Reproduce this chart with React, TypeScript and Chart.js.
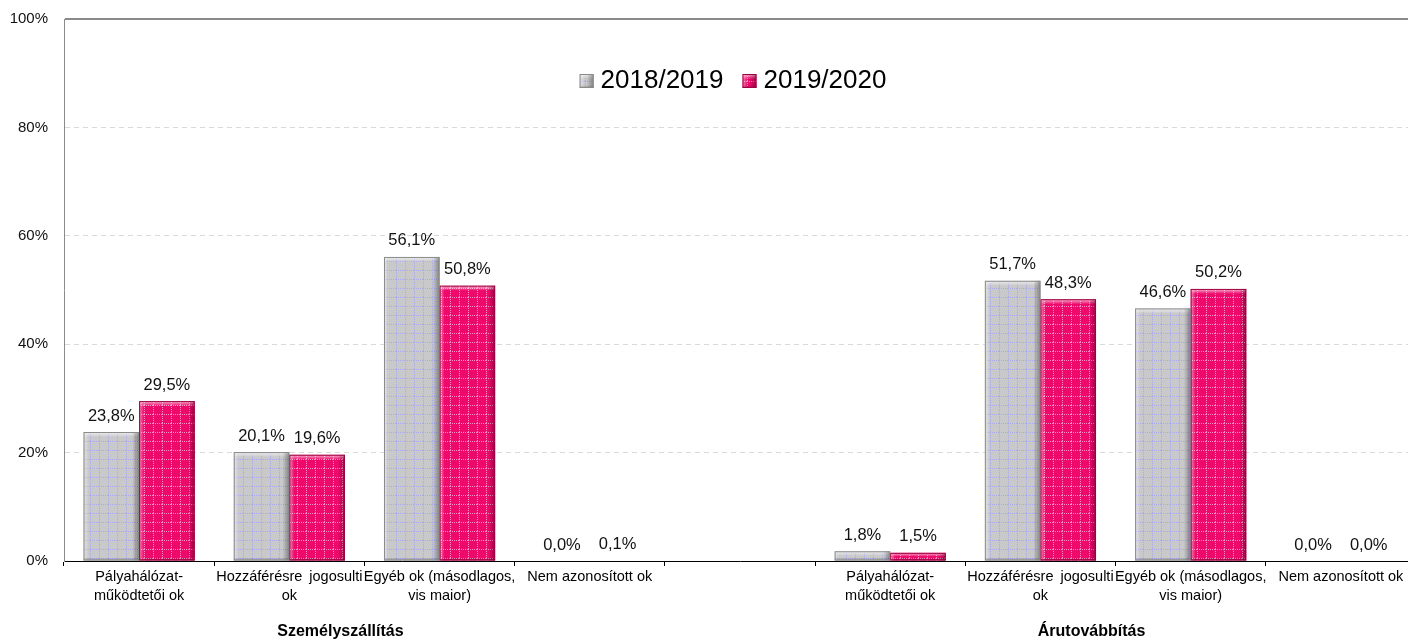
import { useEffect, useRef } from "react";
import { Chart, registerables } from "chart.js";

Chart.register(...registerables);

const categories: (string | string[])[] = [
  ["Pályahálózat-", "működtetői ok"],
  ["Hozzáférésre \u2009jogosulti", "ok"],
  ["Egyéb ok (másodlagos,", "vis maior)"],
  ["Nem azonosított ok"],
  "",
  ["Pályahálózat-", "működtetői ok"],
  ["Hozzáférésre \u2009jogosulti", "ok"],
  ["Egyéb ok (másodlagos,", "vis maior)"],
  ["Nem azonosított ok"],
];
const seriesNames = ["2018/2019", "2019/2020"];
const values2018: (number | null)[] = [23.8, 20.1, 56.1, 0.0, null, 1.8, 51.7, 46.6, 0.0];
const values2019: (number | null)[] = [29.5, 19.6, 50.8, 0.1, null, 1.5, 48.3, 50.2, 0.0];
const groupNames = ["Személyszállítás", "Árutovábbítás"];
const groupRanges = [
  [0, 3],
  [5, 8],
];
const yTickStep = 20;
const yMax = 100;

const FONT = "'Liberation Sans', Arial, sans-serif";

function makePattern(base: string, dot: string, size = 9) {
  const c = document.createElement("canvas");
  c.width = size;
  c.height = size;
  const g = c.getContext("2d")!;
  g.fillStyle = base;
  g.fillRect(0, 0, size, size);
  g.fillStyle = dot;
  for (let i = 0; i < size; i += 2) {
    g.fillRect(i, 0, 1, 1);
    g.fillRect(0, i, 1, 1);
  }
  return g.createPattern(c, "repeat")!;
}

function bevel(ctx: CanvasRenderingContext2D, l: number, t: number, r: number, b: number, dark: string) {
  const w = r - l;
  const h = b - t;
  if (h < 0.5 || w < 1) return;
  ctx.save();
  const e = Math.min(5, h / 2);
  let g = ctx.createLinearGradient(0, t, 0, t + e);
  g.addColorStop(0, "rgba(255,255,255,0.7)");
  g.addColorStop(1, "rgba(255,255,255,0)");
  ctx.fillStyle = g;
  ctx.fillRect(l, t, w, e);
  g = ctx.createLinearGradient(l, 0, l + 5, 0);
  g.addColorStop(0, "rgba(255,255,255,0.5)");
  g.addColorStop(1, "rgba(255,255,255,0)");
  ctx.fillStyle = g;
  ctx.fillRect(l, t, 5, h);
  g = ctx.createLinearGradient(r - 7, 0, r, 0);
  g.addColorStop(0, "rgba(0,0,0,0)");
  g.addColorStop(1, "rgba(0,0,0,0.35)");
  ctx.fillStyle = g;
  ctx.fillRect(r - 7, t, 7, h);
  const be = Math.min(3, h / 2);
  g = ctx.createLinearGradient(0, b - be, 0, b);
  g.addColorStop(0, "rgba(0,0,0,0)");
  g.addColorStop(1, "rgba(0,0,0,0.25)");
  ctx.fillStyle = g;
  ctx.fillRect(l, b - be, w, be);
  ctx.strokeStyle = dark;
  ctx.lineWidth = 1;
  ctx.strokeRect(l + 0.5, t + 0.5, w - 1, Math.max(h - 1, 0));
  ctx.restore();
}

const darkColors = ["#8a8a8a", "#9c0040"];

export default function App() {
  const ref = useRef<HTMLCanvasElement>(null);

  useEffect(() => {
    if (!ref.current) return;
    const greyPat = makePattern("#c9c9cc", "#a9a9ee");
    const pinkPat = makePattern("#ee0a6b", "#ff8fc2");
    const fills = [greyPat, pinkPat];

    const fmt = (v: number) => v.toFixed(1).replace(".", ",") + "%";

    const overlay = {
      id: "overlay",
      afterDatasetsDraw(chart: any) {
        const ctx = chart.ctx as CanvasRenderingContext2D;
        chart.data.datasets.forEach((ds: any, di: number) => {
          const meta = chart.getDatasetMeta(di);
          meta.data.forEach((bar: any, i: number) => {
            const v = ds.data[i];
            if (v === null || v === undefined) return;
            const l = bar.x - bar.width / 2;
            const r = bar.x + bar.width / 2;
            bevel(ctx, l, bar.y, r, bar.base, darkColors[di]);
          });
        });
        ctx.save();
        ctx.font = `16.5px ${FONT}`;
        ctx.fillStyle = "#111";
        ctx.textAlign = "center";
        ctx.textBaseline = "middle";
        chart.data.datasets.forEach((ds: any, di: number) => {
          const meta = chart.getDatasetMeta(di);
          meta.data.forEach((bar: any, i: number) => {
            const v = ds.data[i];
            if (v === null || v === undefined) return;
            ctx.fillText(fmt(v), bar.x, bar.y - 16);
          });
        });
        ctx.restore();
      },
      afterDraw(chart: any) {
        const ctx = chart.ctx as CanvasRenderingContext2D;
        const area = chart.chartArea;
        const xs = chart.scales.x;
        ctx.save();
        ctx.font = `bold 16px ${FONT}`;
        ctx.fillStyle = "#000";
        ctx.textAlign = "center";
        ctx.textBaseline = "middle";
        groupNames.forEach((name, gi) => {
          const [a, b] = groupRanges[gi];
          const cx = (xs.getPixelForValue(a) + xs.getPixelForValue(b)) / 2 - 24;
          ctx.fillText(name, cx, 632);
        });
        ctx.restore();
        ctx.save();
        ctx.font = `26px ${FONT}`;
        ctx.textBaseline = "middle";
        const box = 14;
        const gap = 7;
        const spacing = 19;
        const widths = seriesNames.map((s) => ctx.measureText(s).width);
        const total = widths.reduce((s, w) => s + box + gap + w, 0) + spacing * (seriesNames.length - 1);
        let x = (area.left + area.right) / 2 - 7 - total / 2;
        const cy = 81;
        seriesNames.forEach((s, i) => {
          ctx.fillStyle = fills[i];
          ctx.fillRect(x, cy - box / 2, box, box);
          bevel(ctx, x, cy - box / 2, x + box, cy + box / 2, darkColors[i]);
          ctx.fillStyle = "#000";
          ctx.textAlign = "left";
          ctx.fillText(s, x + box + gap, cy);
          x += box + gap + widths[i] + spacing;
        });
        ctx.restore();
      },
    };

    const chart = new Chart(ref.current, {
      type: "bar",
      data: {
        labels: categories,
        datasets: [
          {
            label: seriesNames[0],
            data: values2018,
            backgroundColor: greyPat,
            borderWidth: 0,
            categoryPercentage: 0.74,
            barPercentage: 1,
          },
          {
            label: seriesNames[1],
            data: values2019,
            backgroundColor: pinkPat,
            borderWidth: 0,
            categoryPercentage: 0.74,
            barPercentage: 1,
          },
        ],
      },
      options: {
        animation: false,
        responsive: true,
        maintainAspectRatio: false,
        layout: { autoPadding: false, padding: { top: 19, right: 14, left: 0, bottom: 0 } },
        plugins: {
          legend: { display: false },
          tooltip: { enabled: false },
        },
        scales: {
          x: {
            grid: {
              offset: true,
              drawOnChartArea: false,
              color: "#000",
              tickLength: 5,
            },
            border: { color: "#000", width: 1 },
            ticks: {
              autoSkip: false,
              maxRotation: 0,
              minRotation: 0,
              padding: 2,
              color: "#000",
              font: { family: FONT, size: 14.5, lineHeight: 1.3 },
            },
            afterFit: (s: any) => {
              s.height = 83;
            },
          },
          y: {
            min: 0,
            max: yMax,
            ticks: {
              stepSize: yTickStep,
              padding: 0,
              color: "#111",
              font: { family: FONT, size: 15 },
              callback: (v: any) => v + "%",
            },
            grid: {
              drawTicks: true,
              tickLength: 16,
              tickColor: "rgba(0,0,0,0)",
              color: (c: any) =>
                c.tick && c.tick.value === yMax ? "#8a8a8a" : c.tick && c.tick.value === 0 ? "rgba(0,0,0,0)" : "#d9d9d9",
              lineWidth: (c: any) => (c.tick && c.tick.value === yMax ? 2 : 1),
            },
            border: {
              color: "#8a8a8a",
              width: 1,
              dash: (c: any) => (c.tick && c.tick.value === yMax ? [] : [5, 4]),
            },
            afterFit: (s: any) => {
              s.width = 64;
            },
          },
        },
      },
      plugins: [overlay],
    });
    return () => chart.destroy();
  }, []);

  return (
    <div
      style={{
        position: "absolute",
        left: 0,
        top: 0,
        width: 1408,
        height: 644,
        overflow: "hidden",
        background: "#fff",
      }}
    >
      <div style={{ position: "relative", width: 1430, height: 644 }}>
        <canvas ref={ref} />
      </div>
    </div>
  );
}
